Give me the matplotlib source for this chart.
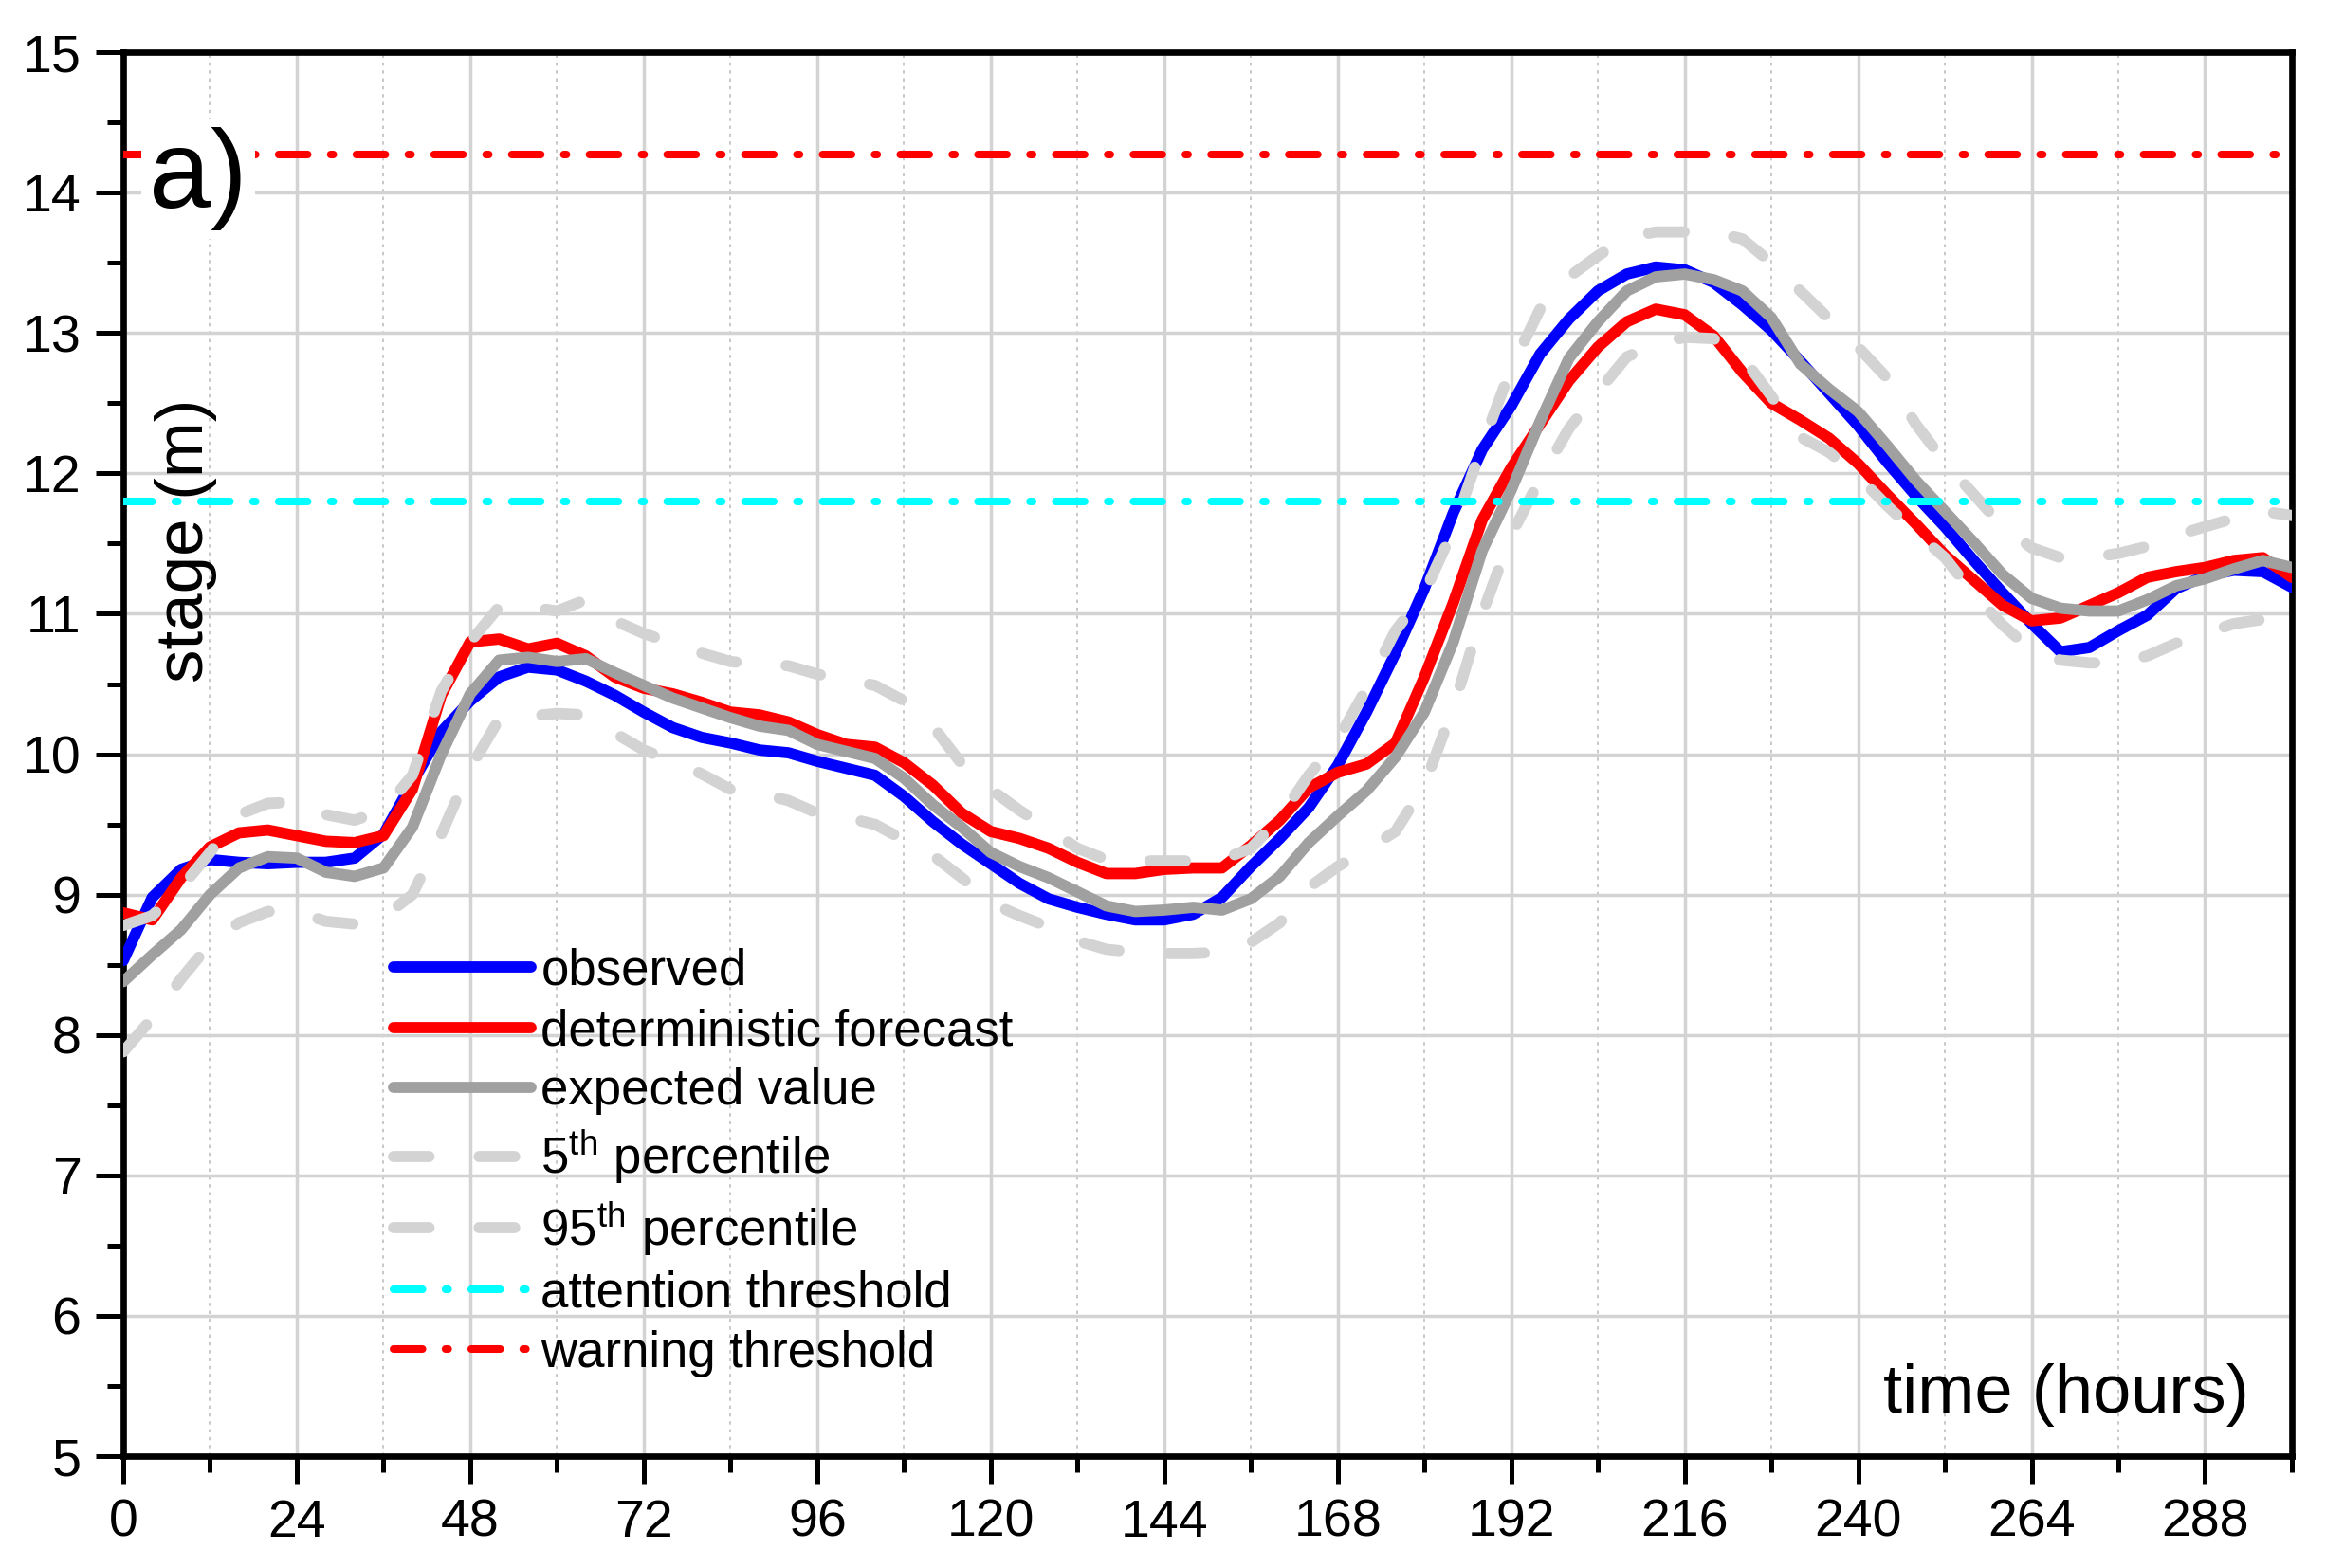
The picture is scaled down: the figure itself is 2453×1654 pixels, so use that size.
import matplotlib
matplotlib.use("Agg")
import matplotlib.pyplot as plt
from matplotlib.ticker import MultipleLocator

plt.rcParams['font.family'] = ['Liberation Sans', 'DejaVu Sans']
plt.rcParams['mathtext.fontset'] = 'custom'
plt.rcParams['mathtext.rm'] = 'Liberation Sans'
plt.rcParams['mathtext.it'] = 'Liberation Sans:italic'
plt.rcParams['lines.scale_dashes'] = False

# ---------------- data ----------------
hours = list(range(0, 301, 4))

observed = [8.53, 8.98, 9.18, 9.25, 9.23, 9.22, 9.23, 9.23, 9.26, 9.43,
            9.80, 10.16, 10.38, 10.55, 10.62, 10.60, 10.52, 10.42, 10.30, 10.19,
            10.12, 10.08, 10.03, 10.01, 9.95, 9.90, 9.85, 9.70, 9.52, 9.36,
            9.22, 9.08, 8.97, 8.91, 8.86, 8.82, 8.82, 8.86, 8.98, 9.20,
            9.40, 9.62, 9.92, 10.30, 10.72, 11.18, 11.72, 12.17, 12.48, 12.85,
            13.10, 13.30, 13.42, 13.47, 13.45, 13.36, 13.20, 13.02, 12.80, 12.57,
            12.34, 12.08, 11.84, 11.62, 11.38, 11.15, 10.93, 10.73, 10.76, 10.88,
            10.99, 11.18, 11.27, 11.31, 11.30, 11.19]

deterministic = [8.87, 8.82, 9.12, 9.34, 9.44, 9.46, 9.42, 9.38, 9.37, 9.42,
                 9.75, 10.42, 10.80, 10.82, 10.75, 10.79, 10.70, 10.55, 10.47, 10.43,
                 10.37, 10.30, 10.28, 10.23, 10.14, 10.07, 10.05, 9.94, 9.78, 9.58,
                 9.45, 9.40, 9.33, 9.23, 9.15, 9.15, 9.18, 9.19, 9.19, 9.35,
                 9.53, 9.76, 9.87, 9.93, 10.08, 10.55, 11.08, 11.67, 12.04, 12.35,
                 12.66, 12.90, 13.08, 13.17, 13.13, 12.98, 12.72, 12.50, 12.38, 12.25,
                 12.07, 11.85, 11.64, 11.42, 11.24, 11.06, 10.95, 10.97, 11.06, 11.15,
                 11.26, 11.30, 11.33, 11.38, 11.40, 11.26]

expected = [8.38, 8.57, 8.75, 9.00, 9.19, 9.27, 9.26, 9.16, 9.13, 9.19,
            9.48, 10.00, 10.43, 10.67, 10.69, 10.66, 10.68, 10.58, 10.49, 10.40,
            10.33, 10.26, 10.20, 10.17, 10.07, 10.02, 9.97, 9.83, 9.64, 9.48,
            9.30, 9.20, 9.12, 9.02, 8.92, 8.88, 8.89, 8.91, 8.89, 8.97,
            9.13, 9.37, 9.56, 9.74, 9.98, 10.30, 10.80, 11.45, 11.88, 12.37,
            12.82, 13.08, 13.30, 13.40, 13.42, 13.38, 13.30, 13.11, 12.78, 12.60,
            12.44, 12.20, 11.95, 11.73, 11.51, 11.28, 11.11, 11.04, 11.02, 11.02,
            11.10, 11.20, 11.25, 11.32, 11.38, 11.33]

p05 = [7.88, 8.12, 8.40, 8.65, 8.80, 8.88, 8.88, 8.81, 8.79, 8.84,
       9.00, 9.43, 9.90, 10.25, 10.27, 10.29, 10.28, 10.15, 10.03, 9.95,
       9.86, 9.75, 9.72, 9.67, 9.58, 9.55, 9.50, 9.39, 9.28, 9.12,
       8.94, 8.85, 8.77, 8.67, 8.61, 8.59, 8.58, 8.58, 8.59, 8.66,
       8.80, 9.05, 9.20, 9.32, 9.45, 9.78, 10.33, 11.00, 11.56, 11.96,
       12.32, 12.58, 12.83, 12.92, 12.97, 12.96, 12.83, 12.55, 12.26, 12.15,
       11.98, 11.77, 11.58, 11.40, 11.14, 10.92, 10.74, 10.67, 10.65, 10.65,
       10.70, 10.79, 10.86, 10.93, 10.96, 10.92]

p95 = [8.78, 8.85, 9.05, 9.30, 9.57, 9.65, 9.66, 9.57, 9.53, 9.60,
       9.85, 10.45, 10.80, 11.05, 11.05, 11.02, 11.10, 10.95, 10.86, 10.79,
       10.72, 10.66, 10.64, 10.63, 10.57, 10.53, 10.49, 10.38, 10.20, 9.93,
       9.75, 9.60, 9.47, 9.33, 9.25, 9.24, 9.24, 9.24, 9.25, 9.33,
       9.55, 9.85, 10.10, 10.47, 10.88, 11.15, 11.60, 12.20, 12.75, 13.17,
       13.40, 13.55, 13.68, 13.72, 13.72, 13.72, 13.67, 13.50, 13.30, 13.10,
       12.90, 12.68, 12.35, 12.08, 11.85, 11.62, 11.47, 11.40, 11.40, 11.43,
       11.48, 11.56, 11.62, 11.68, 11.73, 11.70]

attention_threshold = 11.80
warning_threshold = 14.27

x_ticks = list(range(0, 289, 24))
y_ticks = list(range(5, 16))

# ---------------- figure ----------------
fig = plt.figure(figsize=(24.53, 16.54), dpi=100)
ax = fig.add_axes([0.053, 0.0713, 0.9323, 0.8954])

ax.set_xlim(0, 300)
ax.set_ylim(5, 15)

ax.xaxis.set_major_locator(MultipleLocator(24))
ax.xaxis.set_minor_locator(MultipleLocator(12))
ax.yaxis.set_major_locator(MultipleLocator(1))
ax.yaxis.set_minor_locator(MultipleLocator(0.5))
ax.set_xticks(x_ticks)
ax.set_xticklabels([str(t) for t in x_ticks])
ax.set_yticks(y_ticks)
ax.set_yticklabels([str(t) for t in y_ticks])

ax.grid(which='major', color='#d3d3d3', linewidth=2.5, zorder=0)
ax.grid(which='minor', axis='x', color='#c8c8c8', linewidth=1.4,
        linestyle=(0, (2.5, 3.5)), zorder=0)
ax.set_axisbelow(True)

for s in ax.spines.values():
    s.set_linewidth(4.8)
    s.set_color('black')

ax.tick_params(which='major', direction='out', length=21, width=3.6,
               labelsize=40, pad=11, top=False, right=False)
ax.tick_params(which='minor', direction='out', length=12, width=3.6,
               top=False, right=False)

lw = 8.5
ax.plot(hours, observed, color='#0000ff', lw=lw, solid_capstyle='round',
        solid_joinstyle='round', label='observed', zorder=3)
ax.plot(hours, deterministic, color='#ff0000', lw=lw, solid_capstyle='round',
        solid_joinstyle='round', label='deterministic forecast', zorder=3)
ax.plot(hours, expected, color='#a0a0a0', lw=lw, solid_capstyle='round',
        solid_joinstyle='round', label='expected value', zorder=3)
ax.plot(hours, p05, color='#d3d3d3', lw=lw, dashes=(27, 38),
        dash_capstyle='round', label=r'5$^{\mathrm{th}}$ percentile', zorder=4)
ax.plot(hours, p95, color='#d3d3d3', lw=lw, dashes=(27, 38),
        dash_capstyle='round', label=r'95$^{\mathrm{th}}$ percentile', zorder=4)
ax.axhline(attention_threshold, color='#00ffff', lw=5.8,
           dashes=(22, 17.5, 2, 17.5), dash_capstyle='round',
           label='attention threshold', zorder=5)
ax.axhline(warning_threshold, color='#ff0000', lw=5.8,
           dashes=(22, 17.5, 2, 17.5), dash_capstyle='round',
           label='warning threshold', zorder=5)

leg = ax.legend(loc='upper left', bbox_to_anchor=(0.1245, 0.362),
                frameon=False, fontsize=38, handlelength=2.75,
                handletextpad=0.2, labelspacing=0.25, borderpad=0,
                borderaxespad=0)

ax.text(3.5, 13.89, 'a)', fontsize=84, ha='left', va='baseline', zorder=6,
        bbox=dict(facecolor='white', edgecolor='none', pad=6))
ax.text(8.6, 11.52, 'stage (m)', fontsize=51, rotation=90,
        ha='center', va='center', zorder=6)
ax.text(294.1, 5.31, 'time (hours)', fontsize=52, ha='right',
        va='baseline', zorder=6)

fig.savefig('out.png', dpi=100)
